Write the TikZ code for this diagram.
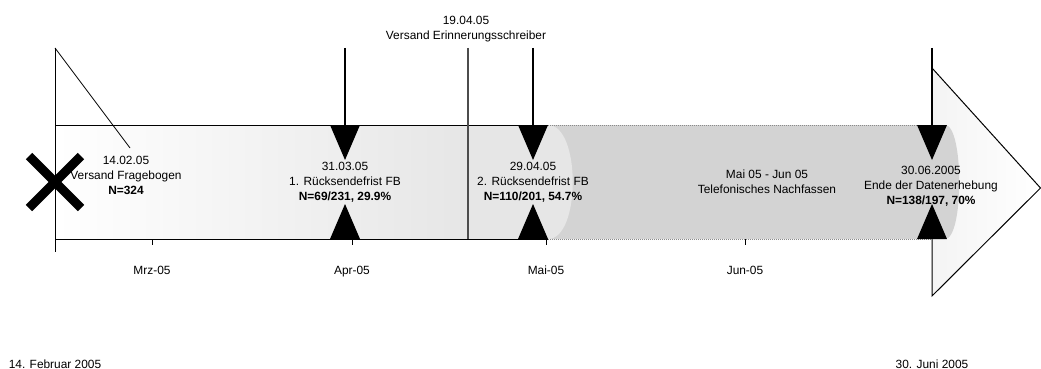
\documentclass[tikz,border=0pt]{standalone}
\usepackage{fontspec}
\setmainfont{Liberation Sans}
\usetikzlibrary{calc}
\definecolor{lightband}{HTML}{E6E6E6}
\definecolor{graydot}{HTML}{D3D3D3}
\definecolor{grayline}{HTML}{8A8A8A}
\definecolor{arrowfill}{HTML}{F4F4F4}
\begin{document}
\begin{tikzpicture}[x=1pt,y=-1pt,
  font=\fontsize{11.9}{15}\selectfont,
  lbl/.style={align=center, inner sep=0pt},
  ticklbl/.style={inner sep=0pt, anchor=base},
  thinline/.style={draw=black, line width=1pt},
  msline/.style={draw=black, line width=1.6pt},
  tri/.style={fill=black},
  tick/.style={draw=black, line width=0.9pt}]
\useasboundingbox (0,0) rectangle (1041,369);

% coordinates
\coordinate (m0top) at (55,48);
\coordinate (m0bot) at (55,252);
\coordinate (m1top) at (345,48);
\coordinate (m1) at (345,125);
\coordinate (m1b) at (345,239);
\coordinate (erTop) at (468,48);
\coordinate (erBot) at (468,239);
\coordinate (m2top) at (533,48);
\coordinate (m2) at (533,125);
\coordinate (m2b) at (533,239);
\coordinate (m3top) at (932,48);
\coordinate (m3) at (932,125);
\coordinate (m3b) at (932,239);
\coordinate (arrTL) at (932,68);
\coordinate (arrTip) at (1040.5,188);
\coordinate (arrBL) at (932,296);
\coordinate (fbend) at (130,148);

% arrow head
\shade[left color=arrowfill, right color=white] (arrTL) -- (arrTip) -- (arrBL) -- cycle;
\draw[thinline] (arrTL) -- (arrTip) -- (arrBL) -- (m3b);

% gradient band
\shade[left color=white, right color=lightband] (55,125) rectangle (468,239);
% gray dotted region with rounded end
\fill[graydot] (548,125) -- (945,125) .. controls (964,125) and (964,239) .. (945,239) -- (548,239) -- cycle;
% light region with rounded end
\fill[lightband] (468,125) -- (548,125) .. controls (581,125) and (581,239) .. (548,239) -- (468,239) -- cycle;

% band borders
\draw[thinline] (55,125) -- (548,125);
\draw[thinline] (55,239) -- (548,239);
\draw[draw=grayline, line width=1pt, densely dotted] (548,125) -- (m3);
\draw[draw=grayline, line width=1pt, densely dotted] (548,239) -- (m3b);

% left start line
\draw[thinline] (m0top) -- (m0bot);
\draw[draw=black, line width=0.8pt] (m0top) -- (fbend);

% reminder line
\draw[draw=black!70, line width=1.2pt] (erTop) -- (erBot);

% milestone lines
\draw[msline] (m1top) -- (m1);
\draw[msline] (m2top) -- (m2);
\draw[msline] (m3top) -- (m3);

% triangles
\foreach \m in {m1,m2,m3}{
  \fill[tri] (\m) ++(-15,0) -- ++(30,0) -- ++(-15,35) -- cycle;
}
\foreach \m in {m1b,m2b,m3b}{
  \fill[tri] (\m) ++(-15,0) -- ++(30,0) -- ++(-15,-35) -- cycle;
}

% start cross
\coordinate (xc) at (55,182);
\draw[line width=9pt] ($(xc)+(-26,-26)$) -- ($(xc)+(26,26)$);
\draw[line width=9pt] ($(xc)+(-26,26)$) -- ($(xc)+(26,-26)$);

% ticks
\foreach \x/\l/\n in {152/Mrz-05/tmrz,352/Apr-05/tapr,546/Mai-05/tmai,745/Jun-05/tjun}{
  \draw[tick] (\x,239) -- (\x,245);
  \node[ticklbl] (\n) at (\x,274.5) {\l};
}

% labels
\node[lbl] (fb) at (126,175) {14.02.05\\Versand Fragebogen\\\textbf{N=324}};
\node[lbl] (r1) at (345,182) {31.03.05\\1. Rücksendefrist FB\\\textbf{N=69/231, 29.9\%}};
\node[lbl] (er) at (466,29) {19.04.05\\Versand Erinnerungsschreiber};
\node[lbl] (r2) at (533,182) {29.04.05\\2. Rücksendefrist FB\\\textbf{N=110/201, 54.7\%}};
\node[lbl] (tel) at (767,182) {Mai 05 - Jun 05\\Telefonisches Nachfassen};
\node[lbl] (end) at (931,186) {30.06.2005\\Ende der Datenerhebung\\\textbf{N=138/197, 70\%}};
\node[ticklbl] (d0) at (55,368) {14. Februar 2005};
\node[ticklbl] (d1) at (932,368) {30. Juni 2005};
\end{tikzpicture}
\end{document}
